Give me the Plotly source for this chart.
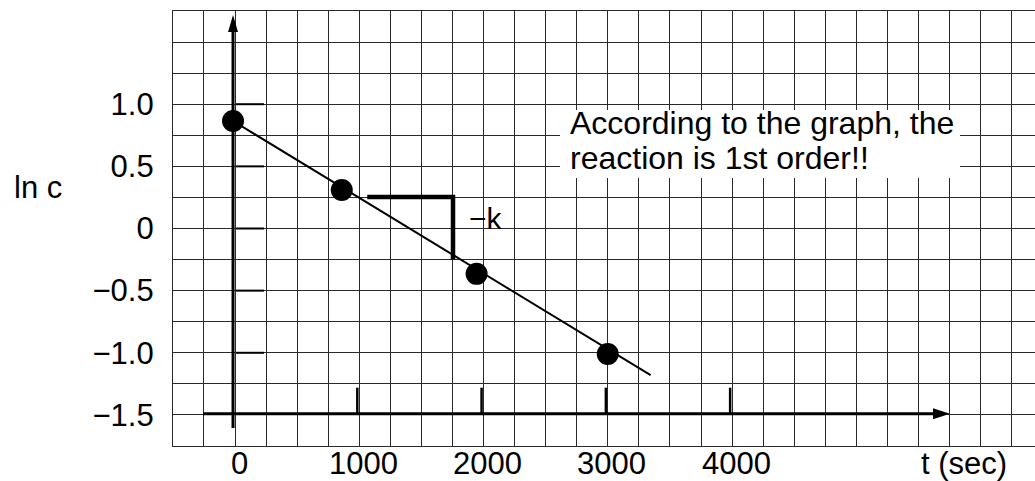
import plotly.graph_objects as go

# ln c measured at each sampling time
time_s = [0, 875, 1960, 3015]
ln_c = [0.865, 0.31, -0.365, -1.01]

# straight line fitted through the measurements
fit_t = [0, 3360]
fit_ln_c = [0.865, -1.18]

# right-angle slope marker: run along t, then the drop (-k)
slope_t = [1080, 1770, 1770]
slope_ln_c = [0.253, 0.253, -0.25]

# tick labels
x_tick_vals = [0, 1000, 2000, 3000, 4000]
x_tick_text = ["0", "1000", "2000", "3000", "4000"]
y_tick_vals = [1.0, 0.5, 0, -0.5, -1.0, -1.5]
y_tick_text = ["1.0", "0.5", "0", "\u22120.5", "\u22121.0", "\u22121.5"]

# hand-drawn axis marks
axis_x_marks = [1000, 2000, 3000, 4000]
axis_y_marks = [1.0, 0.5, 0, -0.5, -1.0]

FONT = "Liberation Sans, Arial, sans-serif"
INK = "black"
GRID = "#2a2a2a"

# drawn axes (time axis sits on ln c = -1.49, ln c axis on t = 0)
X_AXIS_V = -1.49
X_AXIS_FROM, X_AXIS_TIP = -241, 5769
Y_AXIS_T = 0
Y_AXIS_FROM, Y_AXIS_TIP = -1.605, 1.718

# vertical placement of the time labels below the plot (paper units)
X_LABEL_Y = -0.041

fig = go.Figure()

fig.add_trace(go.Scatter(
    x=fit_t, y=fit_ln_c, mode="lines",
    line=dict(color=INK, width=2), hoverinfo="skip", showlegend=False))
fig.add_trace(go.Scatter(
    x=slope_t, y=slope_ln_c, mode="lines",
    line=dict(color=INK, width=4.5), hoverinfo="skip", showlegend=False))
fig.add_trace(go.Scatter(
    x=time_s, y=ln_c, mode="markers",
    marker=dict(color=INK, size=22, line=dict(width=0)),
    showlegend=False))

shapes = []
# white panel behind the remark
shapes.append(dict(type="rect", xref="x", yref="y", x0=2631, x1=5850, y0=0.406, y1=0.9535,
                   fillcolor="white", line=dict(width=0), layer="above"))
# ln c axis with arrowhead
shapes.append(dict(type="line", xref="x", yref="y", x0=Y_AXIS_T, x1=Y_AXIS_T,
                   y0=Y_AXIS_FROM, y1=Y_AXIS_TIP - 0.08, line=dict(color=INK, width=3)))
shapes.append(dict(type="path", xref="x", yref="y", xsizemode="pixel", ysizemode="pixel",
                   xanchor=Y_AXIS_T, yanchor=Y_AXIS_TIP, path="M0,0 L-5,-17 L5,-17 Z",
                   fillcolor=INK, line=dict(width=0)))
# time axis with arrowhead
shapes.append(dict(type="line", xref="x", yref="y", x0=X_AXIS_FROM, x1=X_AXIS_TIP - 80,
                   y0=X_AXIS_V, y1=X_AXIS_V, line=dict(color=INK, width=3)))
shapes.append(dict(type="path", xref="x", yref="y", xsizemode="pixel", ysizemode="pixel",
                   xanchor=X_AXIS_TIP, yanchor=X_AXIS_V, path="M0,0 L-17,5.5 L-17,-5.5 Z",
                   fillcolor=INK, line=dict(width=0)))
# short marks beside the ln c axis
for v in axis_y_marks:
    shapes.append(dict(type="line", xref="x", yref="y", xsizemode="pixel", xanchor=Y_AXIS_T,
                       x0=3, x1=31, y0=v, y1=v, line=dict(color=INK, width=2)))
# short marks above the time axis
for t in axis_x_marks:
    shapes.append(dict(type="line", xref="x", yref="y", ysizemode="pixel", yanchor=X_AXIS_V,
                       x0=t, x1=t, y0=0, y1=26, line=dict(color=INK, width=2.5)))

label_font = dict(size=31, color=INK, family=FONT)
annotations = [
    dict(text="According to the graph, the", x=2695, y=0.85, xref="x", yref="y",
         xanchor="left", yanchor="middle", showarrow=False, font=dict(size=32, color=INK, family=FONT)),
    dict(text="reaction is 1st order!!", x=2695, y=0.57, xref="x", yref="y",
         xanchor="left", yanchor="middle", showarrow=False, font=dict(size=32, color=INK, family=FONT)),
    dict(text="\u2212k", x=1885, y=0.08, xref="x", yref="y",
         xanchor="left", yanchor="middle", showarrow=False, font=dict(size=30, color=INK, family=FONT)),
    dict(text="ln c", x=-0.1868, y=0.332, xref="paper", yref="y",
         xanchor="left", yanchor="middle", showarrow=False, font=label_font),
    dict(text="t (sec)", x=5882, y=X_LABEL_Y, xref="x", yref="paper",
         xanchor="center", yanchor="middle", showarrow=False, font=label_font),
]
# time tick labels under the grid
for val, txt in zip(x_tick_vals, x_tick_text):
    annotations.append(dict(text=txt, x=val, y=X_LABEL_Y, xref="x", yref="paper", xshift=6,
                            xanchor="center", yanchor="middle", showarrow=False, font=label_font))

fig.update_layout(
    width=1035, height=481,
    margin=dict(l=173, r=0, t=11, b=35, autoexpand=False),
    paper_bgcolor="white", plot_bgcolor="white",
    shapes=shapes, annotations=annotations,
    font=dict(family=FONT, size=31, color=INK),
    showlegend=False,
)
fig.update_xaxes(
    range=[-483, 6453], autorange=False, automargin=False,
    tickmode="array", tickvals=x_tick_vals, showticklabels=False,
    ticks="", showgrid=False, zeroline=False,
    showline=True, mirror=True, linecolor=GRID, linewidth=1.2,
    minor=dict(tickmode="linear", tick0=16, dtick=250, showgrid=True,
               gridcolor=GRID, gridwidth=1.2, ticks=""),
)
fig.update_yaxes(
    range=[-1.75, 1.75], autorange=False, automargin=False,
    tickmode="array", tickvals=y_tick_vals, ticktext=y_tick_text,
    ticks="", showgrid=True, gridcolor=GRID, gridwidth=1.2, zeroline=False,
    showline=True, mirror=False, linecolor=GRID, linewidth=1.2,
    ticklabelstandoff=12,
    tickfont=label_font,
    minor=dict(tickmode="linear", tick0=0, dtick=0.25, showgrid=True,
               gridcolor=GRID, gridwidth=1.2, ticks=""),
)

fig.write_html("out.html")
